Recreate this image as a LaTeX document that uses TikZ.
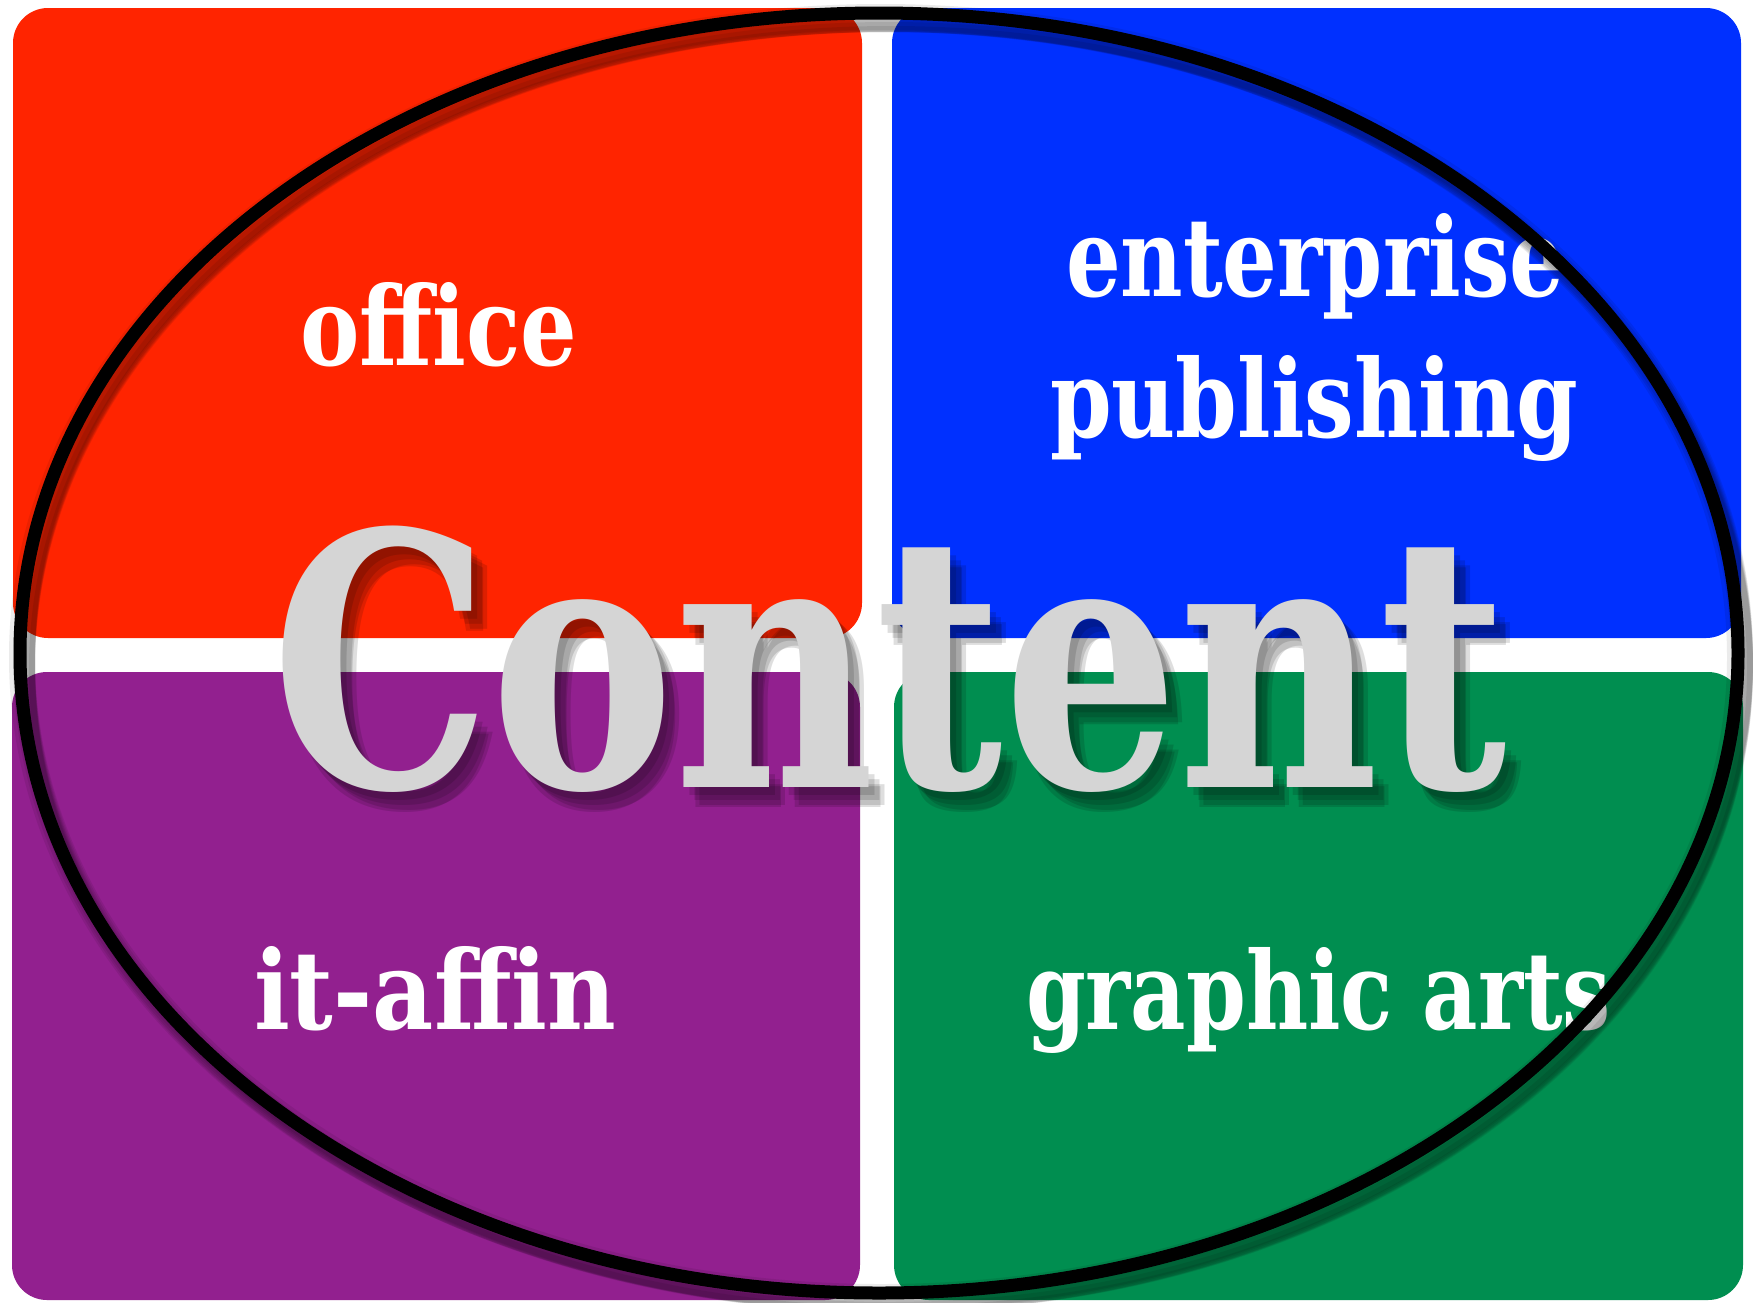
\documentclass[tikz,border=0pt]{standalone}
\usepackage{fontspec}
\usepackage{graphicx}
\newfontfamily\slab{DejaVu Serif Condensed}
\definecolor{qred}{RGB}{255,36,0}
\definecolor{qblue}{RGB}{0,48,255}
\definecolor{qpurple}{RGB}{146,32,143}
\definecolor{qgreen}{RGB}{0,142,80}
\definecolor{qgray}{RGB}{213,213,213}
\newcommand{\fitword}[3]{\resizebox{#1pt}{#2pt}{\slab\bfseries #3}}
\begin{document}
\begin{tikzpicture}[x=1pt,y=1pt,
  quad/.style={inner sep=0pt, outer sep=0pt, rounded corners=35pt, draw=none},
  lbl/.style={inner sep=0pt, outer sep=0pt, anchor=base west, text=white},
  bigword/.style={inner sep=0pt, outer sep=0pt, anchor=base west}]
\useasboundingbox (0,0) rectangle (1753,-1302);
\fill[white] (0,0) rectangle (1753,-1302);

% quadrants
\node[quad, fill=qred,    minimum width=849pt, minimum height=630pt, anchor=north west] (qoffice)  at (13,-8) {};
\node[quad, fill=qblue,   minimum width=849pt, minimum height=630pt, anchor=north west] (qenter)   at (892,-8) {};
\node[quad, fill=qpurple, minimum width=848pt, minimum height=628pt, anchor=north west] (qit)      at (12,-672) {};
\node[quad, fill=qgreen,  minimum width=849pt, minimum height=628pt, anchor=north west] (qgraphic) at (894,-672) {};

% labels
\node[lbl] (loffice) at (300,-365) {\fitword{277}{83}{office}};
\node[lbl] (lenter)  at (1066,-296) {\fitword{498}{83}{enterprise}};
\node[lbl] (lpub)    at (1050,-437) {\fitword{528}{82}{publishing}};
\node[lbl] (lit)     at (254,-1029) {\fitword{362}{83}{it-affin}};
\node[lbl] (lgraph)  at (1026,-1029) {\fitword{585}{82}{graphic arts}};

% ellipse shadow
\foreach \dx/\dy/\w in {2/-4/26, 4/-7/22, 6/-10/18, 8/-12/14, 10/-14/10, 12/-16/6}{
  \draw[black, line width=\w pt, opacity=0.08] (879+\dx,-653+\dy) ellipse [x radius=859, y radius=640];
}
% ellipse
\draw[black, line width=13pt] (879,-653) ellipse [x radius=859, y radius=640];

% Content shadow (soft)
\foreach \dx/\dy [count=\i] in {6/-8, 11/-13, 16/-18, 12/-20}{
  \node[bigword, text=black, text opacity=0.13] (cshadow\i) at (271+\dx,-787+\dy) {\fitword{1235}{261}{Content}};
}
\node[bigword, text=qgray] (content) at (271,-787) {\fitword{1235}{261}{Content}};
\end{tikzpicture}
\end{document}
